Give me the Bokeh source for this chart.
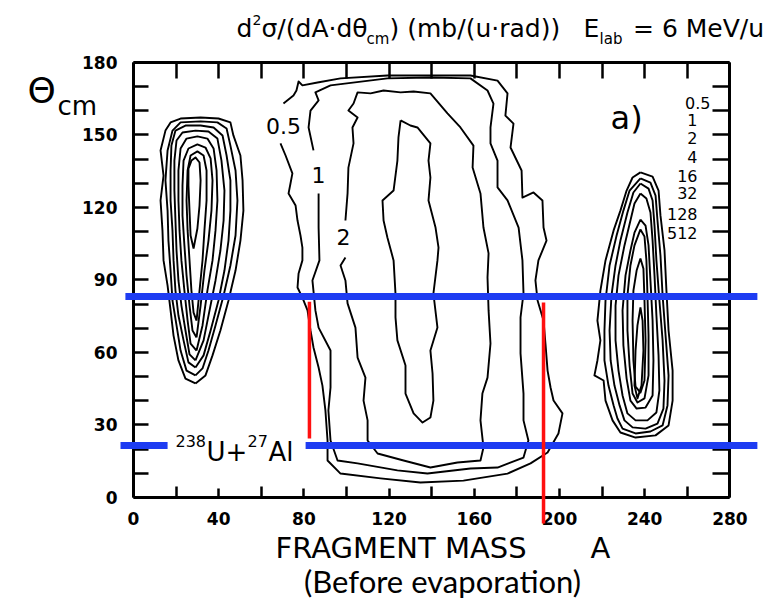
from bokeh.plotting import figure
from bokeh.models import Range1d, LinearAxis, FixedTicker
from bokeh.core.properties import value
from bokeh.embed import file_html
from bokeh.resources import INLINE

# ---------------- axis ticks ----------------
x_ticks = [0, 40, 80, 120, 160, 200, 240, 280]
x_minor = [20, 60, 100, 140, 180, 220, 260]
y_ticks = [0, 30, 60, 90, 120, 150, 180]
y_minor = [10, 20, 40, 50, 70, 80, 100, 110, 130, 140, 160, 170]

# ---------------- central (fission-like) contours: levels 0.5, 1, 2, 4 ----------------
c05_mass = [69.0, 71.4, 74.6, 73.7, 72.8, 76.1, 77.0, 78.4, 79.3, 79.3, 77.5, 77.0, 79.3, 81.7, 83.1,
            84.5, 86.9, 88.7, 90.1, 91.1, 91.1, 97.2, 116.0, 134.7, 154.9, 175.6, 186.4, 194.4, 199.5,
            201.4, 197.2, 195.8, 194.4, 193.4, 192.5, 189.7, 188.7, 190.1, 193.9, 192.5, 192.0, 187.8,
            182.6, 182.2, 177.0, 178.4, 174.6, 175.6, 170.9, 158.2, 139.4, 119.2, 97.2, 86.4, 79.3,
            77.5, 76.5, 75.1, 70.4]
c05_theta = [146.5, 141.5, 134.1, 129.9, 125.8, 120.8, 114.6, 108.4, 103.4, 98.1, 92.7, 86.9, 82.7,
             77.4, 69.1, 62.1, 53.8, 46.3, 36.0, 23.6, 15.3, 9.9, 7.9, 6.2, 7.0, 9.9, 14.1, 18.6, 26.5,
             34.8, 40.1, 45.5, 52.5, 63.7, 73.2, 81.5, 89.8, 98.1, 106.3, 111.7, 122.9, 126.2, 124.1,
             135.3, 144.8, 154.7, 158.0, 167.2, 172.5, 174.6, 174.6, 174.6, 173.4, 171.7, 170.5, 172.1,
             168.4, 166.3, 163.0]

c1_mass = [86.9, 86.9, 87.3, 84.0, 85.4, 86.9, 92.5, 92.5, 91.5, 92.5, 95.8, 105.2, 123.9, 138.0,
           158.2, 170.9, 183.1, 185.4, 183.1, 183.1, 181.7, 181.7, 183.1, 182.6, 180.8, 175.6, 170.9,
           170.9, 167.6, 167.6, 169.0, 166.2, 158.2, 139.4, 119.2, 92.5, 85.4, 86.9, 83.1, 82.2, 84.5]
c1_theta = [125.8, 111.7, 98.1, 89.8, 77.4, 70.3, 60.8, 45.5, 36.0, 23.6, 15.3, 14.1, 11.2, 9.9,
            12.0, 12.4, 16.5, 23.6, 31.9, 43.0, 59.6, 74.5, 84.4, 98.1, 111.7, 122.9, 128.3, 139.4,
            146.5, 153.1, 163.0, 168.4, 173.4, 173.8, 173.4, 170.5, 167.6, 164.3, 160.1, 153.1, 143.6]

c2_mass = [99.5, 97.2, 99.5, 100.5, 104.2, 105.2, 108.9, 108.0, 109.9, 109.9, 114.6, 126.8, 139.4,
           152.1, 162.9, 164.3, 162.9, 163.8, 166.2, 167.6, 166.7, 166.2, 166.7, 164.3, 162.9, 159.2,
           159.6, 153.5, 147.4, 139.4, 131.5, 125.4, 117.4, 111.3, 105.2, 103.3, 100.9, 105.2, 102.8,
           103.3, 100.9, 100.5, 99.5]
c2_theta = [99.3, 96.0, 89.8, 80.3, 70.3, 57.9, 49.6, 40.1, 31.9, 23.6, 18.2, 15.3, 12.4, 14.5, 15.3,
            20.7, 31.9, 43.0, 49.6, 63.7, 77.4, 91.0, 101.0, 111.7, 125.8, 136.5, 145.6, 153.1, 158.9,
            167.2, 168.0, 167.6, 168.4, 167.2, 167.6, 163.0, 160.1, 157.2, 153.1, 146.5, 136.5, 125.8,
            114.6]

c4_mass = [125.4, 130.0, 133.3, 139.4, 138.5, 139.4, 138.5, 141.8, 143.2, 142.7, 140.8, 142.7, 139.4,
           140.4, 140.8, 139.4, 135.7, 131.5, 127.7, 127.7, 123.9, 123.0, 123.0, 122.1, 119.2, 117.4,
           116.9, 122.1, 123.9, 124.4, 125.4]
c4_theta = [156.0, 153.9, 153.1, 146.5, 139.4, 132.4, 122.9, 111.7, 103.4, 98.1, 84.4, 70.3, 60.8,
            51.3, 40.1, 33.1, 31.0, 34.8, 43.0, 54.6, 65.0, 74.5, 84.4, 98.1, 107.6, 114.6, 122.9,
            127.0, 139.4, 149.0, 156.0]

# ---------------- target-like fragments (light side), eight nested levels ----------------
light_mass = [
    [29.1, 24.4, 21.1, 18.8, 17.4, 16.0, 14.1, 13.6, 12.7, 14.1, 12.7, 15.0, 17.4, 22.1, 31.5, 39.9,
     45.5, 46.9, 50.2, 51.2, 51.6, 50.2, 47.9, 44.6, 40.8, 37.1, 33.8, 29.1],
    [29.1, 24.9, 22.1, 20.2, 18.3, 17.4, 16.4, 16.0, 15.0, 16.0, 18.3, 22.1, 31.5, 39.4, 43.7, 45.5,
     47.9, 48.8, 47.9, 45.5, 42.3, 38.5, 35.2, 32.4, 29.1],
    [29.1, 25.8, 23.5, 21.1, 19.7, 18.8, 18.3, 17.4, 17.4, 17.8, 19.7, 24.4, 31.5, 37.6, 41.8, 43.7,
     45.5, 45.5, 44.6, 42.7, 39.9, 36.2, 32.9, 29.1],
    [29.1, 26.3, 24.4, 22.5, 21.1, 20.2, 19.7, 19.2, 19.2, 20.2, 23.0, 29.1, 35.2, 39.4, 41.3, 42.7,
     42.3, 40.8, 38.5, 35.7, 32.9, 29.1],
    [29.6, 26.8, 25.4, 23.9, 22.5, 21.6, 21.1, 21.1, 22.1, 24.9, 30.0, 34.7, 37.6, 39.0, 39.4, 38.5,
     37.1, 34.7, 32.4, 29.6],
    [29.6, 27.7, 26.3, 24.9, 23.9, 23.0, 23.0, 23.5, 25.8, 30.0, 33.8, 36.2, 37.1, 36.6, 35.2, 33.3,
     31.5, 29.6],
    [29.6, 28.2, 27.2, 26.3, 25.4, 24.9, 25.4, 26.8, 30.0, 32.9, 34.3, 34.3, 33.3, 32.4, 31.0, 29.6],
    [28.2, 26.8, 26.3, 25.8, 25.8, 27.2, 29.1, 31.0, 31.5, 31.0, 30.0, 28.2],
]
light_theta = [
    [47.2, 49.2, 56.7, 67.0, 77.4, 87.7, 98.1, 110.5, 122.9, 133.2, 143.6, 151.8, 155.2, 156.8, 157.2,
     156.8, 155.2, 149.8, 141.5, 131.2, 118.7, 106.3, 93.9, 81.5, 69.1, 58.8, 50.5, 47.2],
    [50.5, 52.5, 60.8, 71.2, 81.5, 93.9, 106.3, 118.7, 131.2, 143.6, 151.8, 155.2, 155.6, 155.2, 152.7,
     145.6, 135.3, 122.9, 108.4, 96.0, 83.6, 71.2, 60.8, 53.4, 50.5],
    [53.8, 55.9, 65.0, 75.3, 85.6, 98.1, 110.5, 122.9, 135.3, 145.6, 151.8, 153.9, 153.9, 153.1, 149.8,
     141.5, 131.2, 118.7, 106.3, 93.9, 81.5, 69.1, 58.8, 53.8],
    [56.7, 59.2, 69.1, 79.4, 89.8, 102.2, 114.6, 127.0, 139.4, 147.7, 151.0, 151.8, 151.4, 148.5, 139.4,
     127.0, 114.6, 102.2, 89.8, 77.4, 65.0, 56.7],
    [60.8, 63.7, 73.2, 85.6, 98.1, 110.5, 122.9, 135.3, 144.4, 148.5, 149.4, 148.5, 144.4, 135.3, 122.9,
     110.5, 98.1, 85.6, 71.2, 60.8],
    [66.2, 69.1, 79.4, 91.9, 104.3, 116.7, 129.1, 139.4, 144.4, 146.1, 144.8, 140.3, 131.2, 118.7,
     106.3, 93.9, 79.4, 66.2],
    [73.2, 76.5, 85.6, 98.1, 110.5, 122.9, 135.3, 141.5, 143.2, 141.5, 135.3, 122.9, 110.5, 98.1, 85.6,
     73.2],
    [103.0, 108.4, 118.7, 129.1, 136.1, 139.4, 140.7, 138.6, 131.2, 120.8, 111.3, 103.0],
]

# ---------------- projectile-like fragments (heavy side), eight nested levels ----------------
heavy_mass = [
    [238.0, 243.7, 246.5, 247.4, 249.3, 250.2, 251.2, 253.1, 253.1, 251.2, 245.1, 235.7, 228.6, 224.9,
     221.6, 220.7, 216.4, 217.8, 219.2, 217.8, 219.2, 221.6, 225.4, 228.6, 231.5, 234.3, 238.0],
    [238.0, 242.7, 245.1, 246.0, 247.4, 248.4, 249.8, 251.2, 250.7, 248.4, 242.7, 235.7, 229.6, 227.2,
     225.4, 223.0, 221.1, 221.1, 221.6, 223.5, 226.8, 230.0, 232.9, 238.0],
    [238.0, 241.8, 243.7, 244.6, 245.5, 246.9, 248.4, 249.3, 248.8, 246.0, 240.4, 234.3, 230.5, 228.2,
     225.8, 224.0, 223.5, 224.4, 226.3, 228.6, 231.9, 234.7, 238.0],
    [238.0, 240.8, 242.7, 243.7, 244.6, 245.5, 246.5, 246.9, 245.5, 241.3, 235.7, 231.9, 229.6, 227.7,
     226.3, 226.3, 227.7, 230.5, 233.3, 235.2, 238.0],
    [238.0, 240.4, 241.8, 242.7, 243.7, 244.1, 243.7, 240.4, 236.2, 233.3, 231.5, 230.0, 229.6, 231.0,
     233.3, 235.2, 238.0],
    [238.0, 239.9, 240.8, 241.3, 241.8, 241.8, 239.9, 236.6, 234.3, 232.9, 231.9, 231.9, 233.3, 235.2,
     238.0],
    [238.0, 239.4, 239.9, 240.4, 239.9, 238.0, 235.7, 234.7, 234.3, 234.7, 236.2, 238.0],
    [238.0, 239.0, 239.4, 238.5, 236.6, 235.2, 235.7, 236.6, 238.0],
]
heavy_theta = [
    [134.5, 132.8, 127.0, 116.7, 102.2, 85.6, 69.1, 52.5, 40.1, 29.8, 25.7, 24.8, 26.9, 31.9, 40.1,
     48.4, 50.5, 56.7, 65.0, 73.2, 85.6, 98.1, 110.5, 118.7, 127.0, 132.4, 134.5],
    [132.0, 130.3, 124.9, 114.6, 100.1, 83.6, 67.0, 50.5, 38.1, 29.8, 27.3, 26.5, 28.5, 32.7, 38.1,
     46.3, 56.7, 69.1, 81.5, 96.0, 108.4, 118.7, 127.0, 132.0],
    [129.9, 127.8, 122.9, 112.5, 98.1, 81.5, 65.0, 48.4, 36.8, 30.6, 28.5, 29.0, 31.9, 38.1, 46.3, 56.7,
     69.1, 83.6, 96.0, 106.3, 117.9, 126.2, 129.9],
    [125.8, 123.7, 117.9, 106.3, 91.9, 75.3, 58.8, 44.3, 35.2, 31.9, 31.9, 34.8, 42.2, 52.5, 65.0, 79.4,
     91.9, 104.3, 114.6, 121.6, 125.8],
    [115.0, 112.5, 104.3, 89.8, 73.2, 56.7, 42.2, 37.2, 36.8, 40.1, 49.2, 62.9, 77.4, 91.9, 102.2, 109.6,
     115.0],
    [110.9, 108.0, 98.1, 83.6, 67.0, 50.5, 41.0, 39.3, 43.0, 54.6, 69.1, 83.6, 96.0, 104.3, 110.9],
    [98.9, 94.7, 81.5, 65.0, 48.4, 43.4, 45.9, 56.7, 73.2, 85.6, 93.9, 98.9],
    [78.6, 73.2, 60.8, 46.3, 41.0, 46.3, 60.8, 71.2, 78.6],
]

# ---------------- contour labels ----------------
level_names = ["0.5", "1", "2", "4", "16", "32", "128", "512"]
inline_names = ["0.5", "1", "2"]
inline_mass = [70.4, 86.9, 98.6]
inline_theta = [153.9, 133.6, 107.6]

# ---------------- selection cuts ----------------
cut_theta = [83.2, 21.5, 21.5]
cut_mass_from = [-3.8, -6.1, 80.8]
cut_mass_to = [292.9, 16.0, 292.9]
window_mass = [82.6, 192.5]
window_theta_hi = [81.0, 80.7]
window_theta_lo = [24.4, -10.8]

BLUE = "#1e3cf2"
RED = "#ff1010"
SANS = "DejaVu Sans"

p = figure(width=767, height=603,
           x_range=Range1d(-62.44, 297.65), y_range=Range1d(-43.86, 205.63),
           output_backend="svg", toolbar_location=None,
           x_axis_location=None, y_axis_location=None,
           min_border=0, outline_line_color=None,
           background_fill_color="white", border_fill_color="white")
p.grid.visible = False

# frame axes drawn at the data limits, ticks pointing inward
common = dict(axis_line_width=3, major_tick_line_width=2.5, minor_tick_line_width=2.5,
              major_tick_out=0, minor_tick_out=0,
              major_label_text_font=SANS, major_label_text_font_style="bold",
              major_label_text_font_size="17px", major_label_text_color="black")

left_ax = LinearAxis(fixed_location=0, bounds=(0, 180),
                     ticker=FixedTicker(ticks=y_ticks, minor_ticks=y_minor),
                     major_tick_in=15, minor_tick_in=15, major_label_standoff=16, **common)
p.add_layout(left_ax, "left")

bottom_ax = LinearAxis(fixed_location=0, bounds=(0, 280),
                       ticker=FixedTicker(ticks=x_ticks, minor_ticks=x_minor),
                       major_tick_in=9, minor_tick_in=11, major_label_standoff=15, **common)
p.add_layout(bottom_ax, "below")

top_ax = LinearAxis(fixed_location=180, bounds=(0, 280),
                    ticker=FixedTicker(ticks=[], minor_ticks=x_ticks + x_minor),
                    minor_tick_in=16, **common)
p.add_layout(top_ax, "above")

right_ax = LinearAxis(fixed_location=280, bounds=(0, 180),
                      ticker=FixedTicker(ticks=[], minor_ticks=y_ticks + y_minor),
                      minor_tick_in=17, **common)
p.add_layout(right_ax, "right")

# contour lines
all_mass = [c05_mass, c1_mass, c2_mass, c4_mass] + light_mass + heavy_mass
all_theta = [c05_theta, c1_theta, c2_theta, c4_theta] + light_theta + heavy_theta
p.multi_line(xs=all_mass, ys=all_theta, line_color="black", line_width=1.9, line_join="round")

# inline contour labels
p.text(x=inline_mass, y=inline_theta, text=inline_names, text_font=value(SANS),
       text_font_size="22px", text_align="center", text_baseline="middle", text_color="black")

# list of contour levels at the right
p.text(x=[270.9] + [264.8] * 7,
       y=[163.4, 156.0, 148.9, 140.7, 133.2, 125.8, 117.5, 109.6],
       text=level_names, text_font=value(SANS), text_font_size="16px",
       text_align="right", text_baseline="middle", text_color="black")

# panel tag
p.text(x=[224.0], y=[157.2], text=["a)"], text_font=value(SANS), text_font_size="32px",
       text_baseline="middle", text_color="black")

# reaction label
p.text(x=[34.3, 63.4], y=[19.0, 19.0], text=["U+", "Al"], text_font=value(SANS),
       text_font_size="26px", text_baseline="middle", text_color="black")
p.text(x=[19.7, 53.5], y=[23.4, 23.4], text=["238", "27"], text_font=value(SANS),
       text_font_size="16px", text_baseline="middle", text_color="black")

# title pieces
p.text(x=[48.4, 60.1, 120.2, 211.3, 234.5], y=[194.0] * 5,
       text=["d", "\u03c3/(dA\u00b7d\u03b8", ") (mb/(u\u00b7rad))", "E", "= 6 MeV/u"],
       text_font=value(SANS), text_font_size="25px", text_baseline="middle", text_color="black")
p.text(x=[55.9], y=[197.6], text=["2"], text_font=value(SANS), text_font_size="14px",
       text_baseline="middle", text_color="black")
p.text(x=[109.4, 218.8], y=[189.6, 189.6], text=["cm", "lab"], text_font=value(SANS),
       text_font_size="15px", text_baseline="middle", text_color="black")

# axis titles
p.text(x=[-49.8], y=[168.4], text=["\u0398"], text_font=value(SANS), text_font_size="36px",
       text_baseline="middle", text_color="black")
p.text(x=[-35.7], y=[161.8], text=["cm"], text_font=value(SANS), text_font_size="26px",
       text_baseline="middle", text_color="black")
p.text(x=[66.7, 214.6], y=[-21.1, -21.1], text=["FRAGMENT MASS", "A"], text_font=value(SANS),
       text_font_size="29px", text_baseline="middle", text_color="black")
p.text(x=[145.1], y=[-34.6], text=["(Before evaporation)"], text_font=value("Lato"),
       text_font_size="31px", text_align="center", text_baseline="middle", text_color="black")

# angular cuts (blue) and mass window (red)
blue = p.segment(x0=cut_mass_from, y0=cut_theta, x1=cut_mass_to, y1=cut_theta,
                 line_color=BLUE, line_width=7)
red = p.segment(x0=window_mass, y0=window_theta_hi, x1=window_mass, y1=window_theta_lo,
                line_color=RED, line_width=3.5)
blue.level = "overlay"
red.level = "overlay"

open("out.html", "w").write(file_html(p, INLINE))
